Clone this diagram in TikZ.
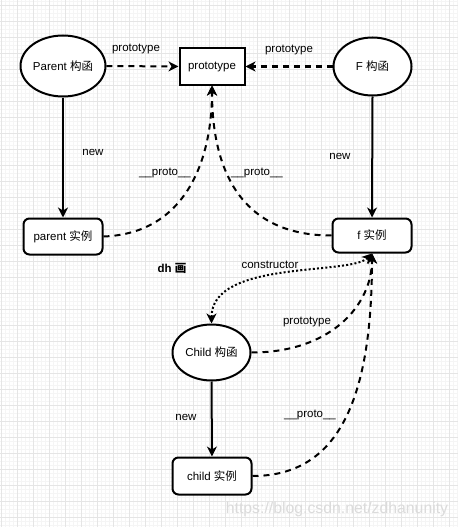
\documentclass[tikz,border=0pt]{standalone}
\usepackage{fontspec}
\setmainfont{Liberation Sans}
\newfontfamily\cjk{Noto Sans CJK SC}
\usetikzlibrary{arrows.meta,shapes.geometric}
\tikzset{
  gridminor/.style={draw=black!4, line width=0.5pt},
  gridmajor/.style={draw=black!10, line width=0.8pt},
  ell/.style={ellipse, draw=black, line width=2pt, fill=white, inner sep=0pt, font=\fontsize{11.5}{13}\selectfont},
  sbox/.style={rectangle, draw=black, line width=2pt, fill=white, inner sep=0pt, font=\fontsize{11.5}{13}\selectfont},
  rbox/.style={sbox, rounded corners=6pt},
  lbl/.style={inner sep=0pt, font=\fontsize{11.5}{13}\selectfont},
  tip/.style={-{Stealth[length=10pt,width=10pt,inset=3pt]}},
  solidarrow/.style={tip, line width=2pt},
  dasharrow/.style={tip, line width=2pt, dash pattern=on 6pt off 5pt},
  dotarrow/.style={{Stealth[length=10pt,width=10pt,inset=3pt]}-{Stealth[length=10pt,width=10pt,inset=3pt]}, line width=2pt, dash pattern=on 2pt off 2.2pt},
}
\begin{document}
\begin{tikzpicture}[x=1pt,y=-1pt]
\useasboundingbox (0,0) rectangle (458,527);
\fill[white] (0,0) rectangle (458,527);
% grid
\foreach \x in {1,5,...,457} {\draw[gridminor] (\x,0) -- (\x,527);}
\foreach \y in {1,5,...,525} {\draw[gridminor] (0,\y) -- (458,\y);}
\foreach \x in {1,17,...,457} {\draw[gridmajor] (\x,0) -- (\x,527);}
\foreach \y in {5,21,...,525} {\draw[gridmajor] (0,\y) -- (458,\y);}

% nodes
\node[ell, minimum width=79pt, minimum height=61pt] (parent) at (63,66) {Parent \cjk{构函}};
\node[sbox, minimum width=65pt, minimum height=36pt] (proto) at (212,66.5) {prototype};
\node[ell, minimum width=78pt, minimum height=58pt] (F) at (372.5,66.5) {F \cjk{构函}};
\node[rbox, minimum width=79pt, minimum height=36pt] (pi) at (63,236.5) {parent \cjk{实例}};
\node[rbox, minimum width=79pt, minimum height=34pt] (fi) at (372,235.5) {f \cjk{实例}};
\node[ell, minimum width=78pt, minimum height=56pt] (child) at (211.5,352.5) {Child \cjk{构函}};
\node[rbox, minimum width=79pt, minimum height=37pt] (ci) at (212,476) {child \cjk{实例}};

% connectors
\draw[dasharrow] (parent.east) -- (proto.west);
\draw[dasharrow] (F.west) -- (proto.east);
\draw[solidarrow] (parent.south) -- (pi.north);
\draw[solidarrow] (F.south) -- (fi.north);
\draw[solidarrow] (child.south) -- (ci.north);
\draw[dasharrow] (pi.east) .. controls +(82,-3) and +(0,75) .. (proto.south);
\draw[dasharrow] (fi.west) .. controls +(-92,0) and +(0,83) .. (proto.south);
\draw[dasharrow] (child.east) .. controls +(79,0) and +(0,52) .. (fi.south);
\draw[dasharrow] (ci.east) .. controls +(88,0) and +(0,142) .. (fi.south);
\draw[dotarrow] (child.north) .. controls +(0,-64) and +(-22,22) .. (fi.south);

% labels
\node[lbl] (l1) at (136,49) {prototype};
\node[lbl] (l2) at (289,50) {prototype};
\node[lbl] (l3) at (93,152) {new};
\node[lbl] (l4) at (340,156) {new};
\node[lbl] (l5) at (165,173) {\_\_proto\_\_};
\node[lbl] (l6) at (257,173) {\_\_proto\_\_};
\node[lbl, font=\fontsize{11.5}{13}\selectfont\bfseries] (l7) at (172,268) {dh \cjk{画}};
\node[lbl] (l8) at (270,265) {constructor};
\node[lbl] (l9) at (307,322) {prototype};
\node[lbl] (l10) at (310,415) {\_\_proto\_\_};
\node[lbl] (l11) at (186,417) {new};
\node[inner sep=0pt, text=black!14, font=\fontsize{15.8}{18}\selectfont] (wm) at (337,509) {https://blog.csdn.net/zdhanunity};
\end{tikzpicture}
\end{document}
